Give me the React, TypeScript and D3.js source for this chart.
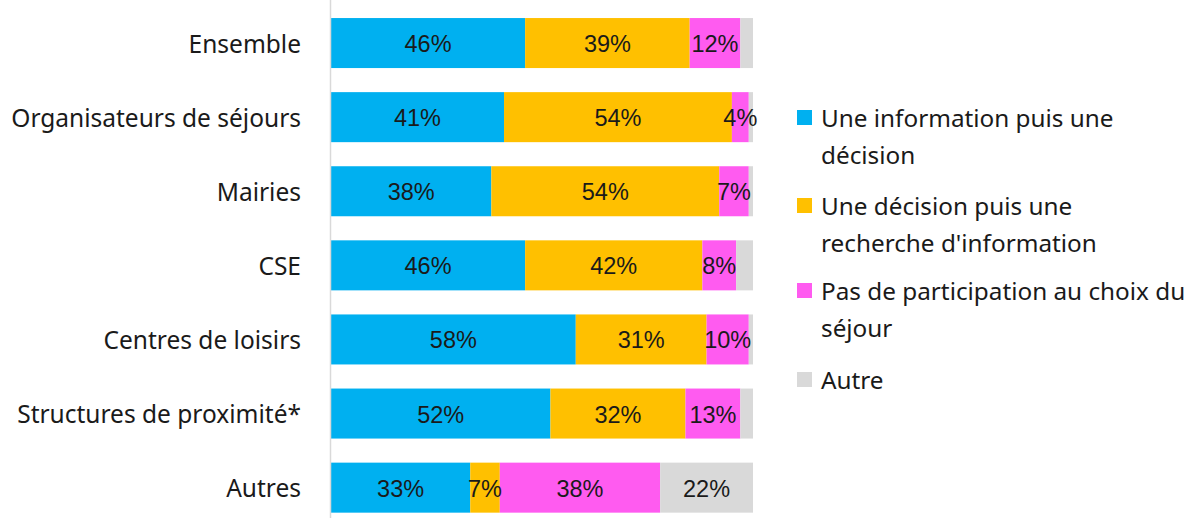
import React from "react";
import * as d3 from "d3";

const categories = [
  "Ensemble",
  "Organisateurs de séjours",
  "Mairies",
  "CSE",
  "Centres de loisirs",
  "Structures de proximité*",
  "Autres",
];
const seriesNames = [
  "Une information puis une décision",
  "Une décision puis une recherche d'information",
  "Pas de participation au choix du séjour",
  "Autre",
];
const legendLines = [
  ["Une information puis une", "décision"],
  ["Une décision puis une", "recherche d'information"],
  ["Pas de participation au choix du", "séjour"],
  ["Autre"],
];
const infoPuisDecision = [46, 41, 38, 46, 58, 52, 33];
const decisionPuisInfo = [39, 54, 54, 42, 31, 32, 7];
const pasParticipation = [12, 4, 7, 8, 10, 13, 38];
const autre = [3, 1, 1, 4, 1, 3, 22];
const colors = ["#00B0F0", "#FFC000", "#FF5BF0", "#D9D9D9"];

const W = 1198;
const H = 518;

export default function App() {
  const seriesValues = [infoPuisDecision, decisionPuisInfo, pasParticipation, autre];
  const rows = categories.map((c, i) => {
    const o: any = { cat: c };
    seriesNames.forEach((s, j) => (o[s] = seriesValues[j][i]));
    return o;
  });
  const stack = d3.stack<any>().keys(seriesNames)(rows);

  const x = d3.scaleLinear().domain([0, 100]).range([331, 753]);
  const y = d3
    .scaleBand()
    .domain(categories)
    .range([6, 524.7])
    .paddingInner(0.325)
    .paddingOuter(0.1625);
  const bw = y.bandwidth();

  const labelFont = "'Liberation Sans', Arial, sans-serif";
  const catFont = "'Noto Sans', sans-serif";

  return (
    <svg
      width={W}
      height={H}
      style={{ position: "absolute", left: 0, top: 0, background: "#fff" }}
    >
      <rect x={0} y={0} width={W} height={H} fill="#fff" />
      {stack.map((layer, j) => (
        <g key={"r" + j}>
          {layer.map((d, i) => (
            <rect
              key={i}
              x={x(d[0])}
              y={y(categories[i])!}
              width={Math.max(0, x(d[1]) - x(d[0]))}
              height={bw}
              fill={colors[j]}
            />
          ))}
        </g>
      ))}
      {stack.map((layer, j) => (
        <g key={"t" + j}>
          {layer.map((d, i) => {
            const v = d[1] - d[0];
            const show = j === 3 ? v >= 10 : v >= 4;
            if (!show) return null;
            return (
              <text
                key={i}
                x={(x(d[0]) + x(d[1])) / 2}
                y={y(categories[i])! + bw / 2 + 1}
                textAnchor="middle"
                dominantBaseline="central"
                fontFamily={labelFont}
                fontSize={23.5}
                fill="#1a1a1a"
              >
                {`${v}%`}
              </text>
            );
          })}
        </g>
      ))}
      <line x1={330.5} x2={330.5} y1={0} y2={H} stroke="#D9D9D9" strokeWidth={1.5} />
      {categories.map((c) => (
        <text
          key={c}
          x={301}
          y={y(c)! + bw / 2}
          textAnchor="end"
          dominantBaseline="central"
          fontFamily={catFont}
          fontSize={24.5}
          fill="#1a1a1a"
        >
          {c}
        </text>
      ))}
      {legendLines.map((lines, j) => {
        const top = [117, 205, 290, 379][j];
        return (
          <g key={j}>
            <rect x={797} y={top - 7} width={15} height={15} fill={colors[j]} />
            {lines.map((l, k) => (
              <text
                key={k}
                x={821}
                y={top + k * 37}
                dominantBaseline="central"
                fontFamily={catFont}
                fontSize={24.3}
                fill="#1a1a1a"
              >
                {l}
              </text>
            ))}
          </g>
        );
      })}
    </svg>
  );
}
